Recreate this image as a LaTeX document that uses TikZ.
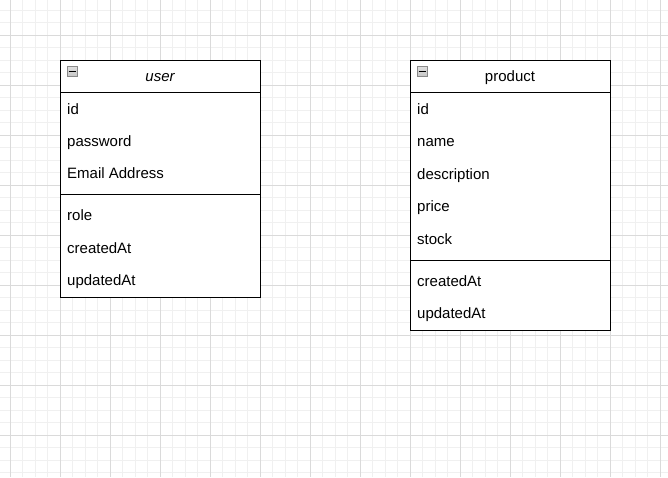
\documentclass[tikz,border=0pt]{standalone}
\usepackage{fontspec}
\setmainfont{Liberation Sans}
\definecolor{gridminor}{HTML}{F0F0F0}
\definecolor{gridmajor}{HTML}{DADADA}
\definecolor{iconedge}{HTML}{8A8A8A}
\begin{document}
\begin{tikzpicture}[x=1pt,y=-1pt,
  minorgrid/.style={draw=gridminor,line width=0.9pt},
  majorgrid/.style={draw=gridmajor,line width=0.9pt},
  part/.style={draw=black,line width=1.1pt,fill=white,anchor=north west,
    inner sep=0pt,minimum width=200pt},
  field/.style={anchor=base west,inner sep=0pt,font=\fontsize{15}{18}\selectfont},
  title/.style={anchor=base,inner sep=0pt,font=\fontsize{15}{18}\selectfont},
  toggle/.style={draw=iconedge,line width=1pt,top color=gray!25,
    bottom color=gray!45,minimum width=10pt,minimum height=10pt,inner sep=0pt,
    anchor=north west},
  minus/.style={draw=black,line width=1.4pt}]
\useasboundingbox (0,0) rectangle (668,477);
\fill[white] (0,0) rectangle (668,477);
% background grid
\foreach \gx in {-2.5,10,...,672} \draw[minorgrid] (\gx,0) -- (\gx,477);
\foreach \gy in {-2.5,10,...,480} \draw[minorgrid] (0,\gy) -- (668,\gy);
\foreach \gx in {10,60,...,660} \draw[majorgrid] (\gx,0) -- (\gx,477);
\foreach \gy in {35,85,...,435} \draw[majorgrid] (0,\gy) -- (668,\gy);

% ---- user entity ----
\node[part,minimum height=32pt] (userhead) at (60,60) {};
\node[part,minimum height=102pt] (userkeys) at (60,92) {};
\node[part,minimum height=103pt] (usermeta) at (60,194) {};
\node[toggle] (usertoggle) at (66.5,66) {};
\draw[minus] ([xshift=2pt]usertoggle.west) -- ([xshift=-2pt]usertoggle.east);
\node[title] (usertitle) at (160,81) {\itshape user};
\node[field] (uid) at (67,114.5) {id};
\node[field] (upass) at (67,146.5) {password};
\node[field] (umail) at (67,178.5) {Email Address};
\node[field] (urole) at (67,220.5) {role};
\node[field] (ucreated) at (67,253.5) {createdAt};
\node[field] (uupdated) at (67,285.5) {updatedAt};

% ---- product entity ----
\node[part,minimum height=32pt] (prodhead) at (410,60) {};
\node[part,minimum height=168pt] (prodkeys) at (410,92) {};
\node[part,minimum height=70pt] (prodmeta) at (410,260) {};
\node[toggle] (prodtoggle) at (416.5,66) {};
\draw[minus] ([xshift=2pt]prodtoggle.west) -- ([xshift=-2pt]prodtoggle.east);
\node[title] (prodtitle) at (510,81) {product};
\node[field] (pid) at (417,114.5) {id};
\node[field] (pname) at (417,146.5) {name};
\node[field] (pdesc) at (417,179.5) {description};
\node[field] (pprice) at (417,211.5) {price};
\node[field] (pstock) at (417,244.5) {stock};
\node[field] (pcreated) at (417,286.5) {createdAt};
\node[field] (pupdated) at (417,318.5) {updatedAt};
\end{tikzpicture}
\end{document}
